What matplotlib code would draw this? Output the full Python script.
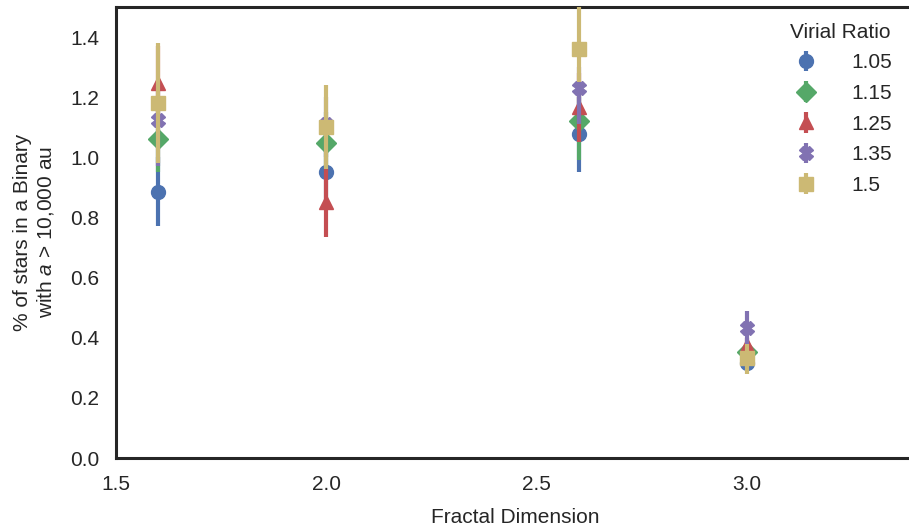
import matplotlib
matplotlib.use('Agg')
import matplotlib.pyplot as plt

plt.rcParams['font.family'] = ['Liberation Sans', 'DejaVu Sans']
plt.rcParams['mathtext.fontset'] = 'custom'
plt.rcParams['mathtext.it'] = 'Liberation Sans:italic'
plt.rcParams['mathtext.rm'] = 'Liberation Sans'

# fractal dimension of each group
fractal_dim = [1.6, 2.0, 2.6, 3.0]

# virial ratio series: mean and lower/upper error bar ends
virial = ['1.05', '1.15', '1.25', '1.35', '1.5']
means = {
    '1.05': [0.885, 0.952, 1.077, 0.315],
    '1.15': [1.060, 1.048, 1.120, 0.352],
    '1.25': [1.247, 0.850, 1.167, 0.376],
    '1.35': [1.124, 1.110, 1.230, 0.432],
    '1.5':  [1.180, 1.100, 1.360, 0.333],
}
lows = {
    '1.05': [0.77, 0.84, 0.95, 0.29],
    '1.15': [0.95, 0.95, 0.99, 0.33],
    '1.25': [1.12, 0.735, 1.05, 0.35],
    '1.35': [0.97, 1.00, 1.11, 0.38],
    '1.5':  [0.98, 0.96, 1.25, 0.28],
}
highs = {
    '1.05': [1.00, 1.07, 1.20, 0.34],
    '1.15': [1.17, 1.15, 1.25, 0.37],
    '1.25': [1.37, 0.965, 1.28, 0.40],
    '1.35': [1.25, 1.20, 1.30, 0.49],
    '1.5':  [1.38, 1.24, 1.52, 0.38],
}

colors = ['#4C72B0', '#55A868', '#C44E52', '#8172B2', '#CCB974']
markers = ['o', 'D', '^', 'X', 's']
text_col = '#262626'

fig = plt.figure(figsize=(9.09, 5.27), dpi=100)
ax = fig.add_axes([116 / 909, 69 / 527, 799 / 909, 451 / 527])

for i, v in enumerate(virial):
    m = means[v]
    err = [[a - b for a, b in zip(m, lows[v])],
           [b - a for a, b in zip(m, highs[v])]]
    ax.errorbar(fractal_dim, m, yerr=err, fmt=markers[i], color=colors[i],
                markersize=10, elinewidth=3, capsize=0, label=v,
                zorder=2 + i)

ax.set_xlim(1.5, 3.4)
ax.set_ylim(0, 1.5)
ax.set_xticks([1.5, 2.0, 2.5, 3.0])
ax.set_yticks([0.0, 0.2, 0.4, 0.6, 0.8, 1.0, 1.2, 1.4])
ax.tick_params(length=0, pad=12, labelsize=15, colors=text_col)
for s in ax.spines.values():
    s.set_linewidth(2.2)
    s.set_color(text_col)

ax.set_xlabel('Fractal Dimension', fontsize=15, color=text_col, labelpad=10)
ax.set_ylabel('% of stars in a Binary\nwith $a$ > 10,000 au', fontsize=15,
              color=text_col, labelpad=10)

leg = ax.legend(title='Virial Ratio', frameon=False, loc='upper right',
                fontsize=15, title_fontsize=15, bbox_to_anchor=(0.995, 1.007),
                handletextpad=1.4, labelspacing=0.56, handlelength=1.6)
for t in leg.get_texts():
    t.set_color(text_col)
leg.get_title().set_color(text_col)

fig.savefig('out.png', dpi=100)
